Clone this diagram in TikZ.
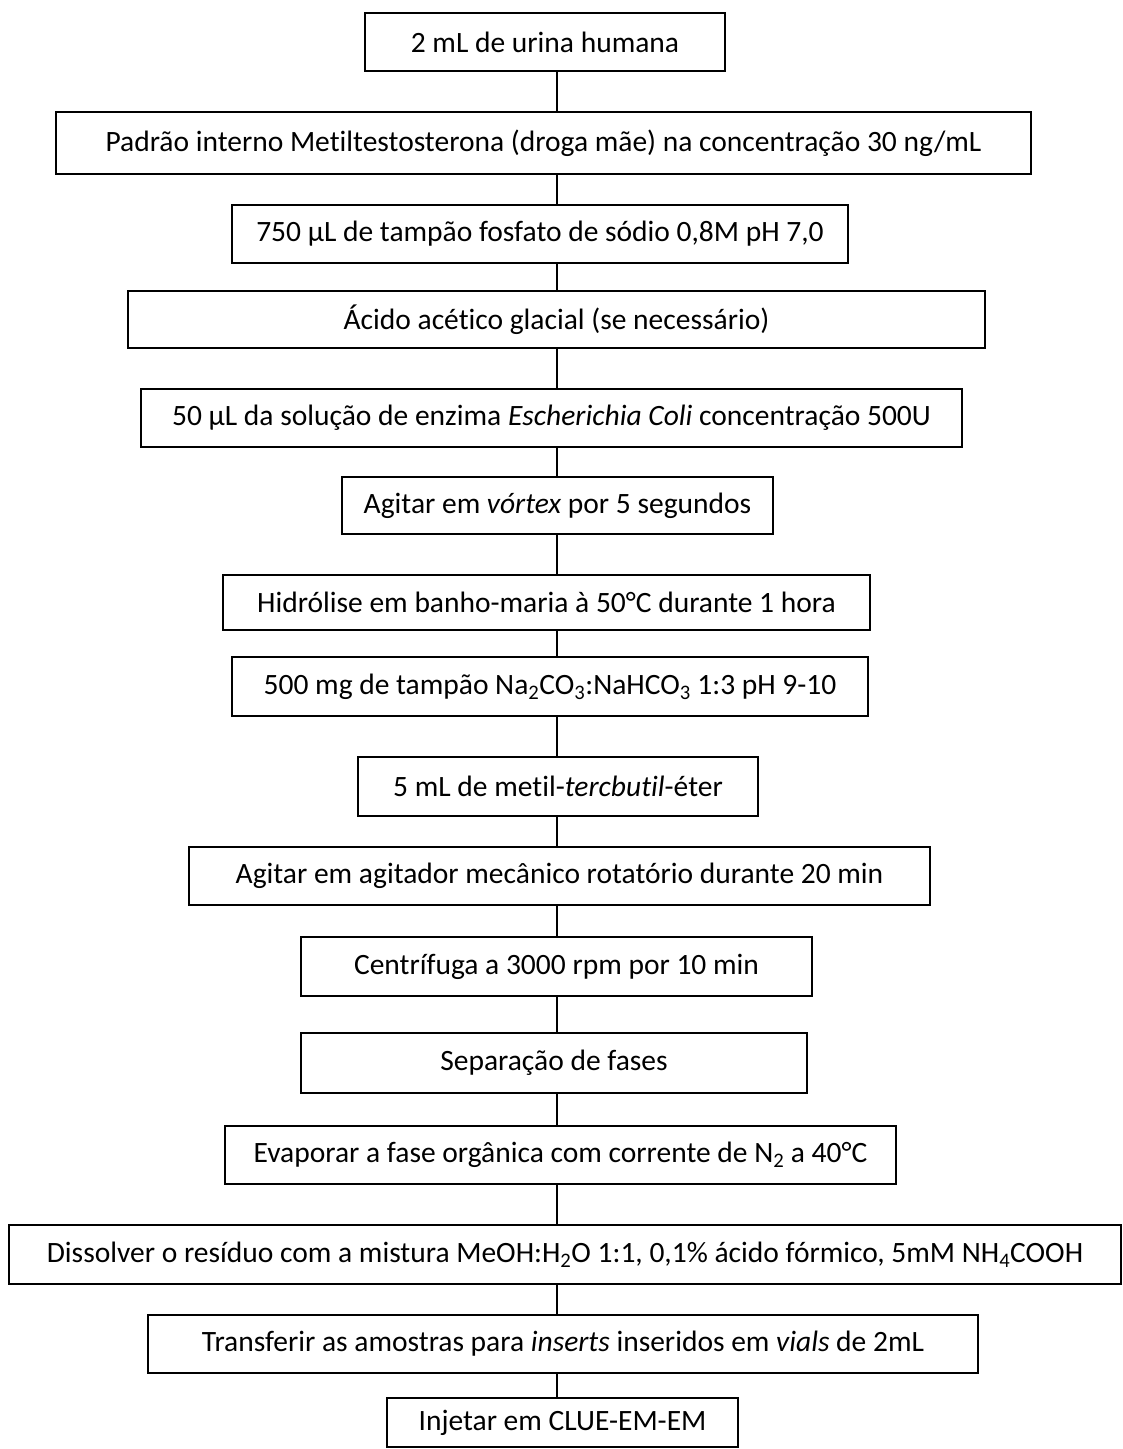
\documentclass[tikz,border=0pt]{standalone}
\usepackage{fontspec}
\setmainfont{Carlito}[Ligatures={NoCommon}]

\begin{document}
\begin{tikzpicture}[
    x=1pt, y=-1pt,
    line width=1.8pt,
    stepbox/.style={draw=black, rectangle, inner sep=0pt, text=black,
                    font=\fontsize{29.5}{34}\selectfont},
    link/.style={draw=black, line width=1.5pt},
  ]
  \useasboundingbox (0,0) rectangle (1123,1449);

  % ---- etapas do preparo ----
  \node[stepbox, minimum width=360, minimum height=58] (urina) at (545,42) {2 mL de urina humana};
  \node[stepbox, minimum width=975, minimum height=62] (padrao) at (543.5,143) {Padrão interno Metiltestosterona (droga mãe) na concentração 30 ng/mL};
  \node[stepbox, minimum width=616, minimum height=58] (tampao) at (540,234) {750 µL de tampão fosfato de sódio 0,8M pH 7,0};
  \node[stepbox, minimum width=857, minimum height=57] (acido) at (556.5,319.5) {Ácido acético glacial (se necessário)};
  \node[stepbox, minimum width=821, minimum height=58] (enzima) at (551.5,418) {50 µL da solução de enzima \textit{Escherichia Coli} concentração 500U};
  \node[stepbox, minimum width=431, minimum height=57] (vortex) at (557.5,505.5) {Agitar em \textit{vórtex} por 5 segundos};
  \node[stepbox, minimum width=647, minimum height=55] (hidrolise) at (546.5,602.5) {Hidrólise em banho-maria à 50°C durante 1 hora};
  \node[stepbox, minimum width=636, minimum height=59] (carbonato) at (550,686.5) {500 mg de tampão Na\textsubscript{2}CO\textsubscript{3}:NaHCO\textsubscript{3} 1:3 pH 9-10};
  \node[stepbox, minimum width=400, minimum height=59] (eter) at (558,786.5) {5 mL de metil-\textit{tercbutil}-éter};
  \node[stepbox, minimum width=741, minimum height=58] (agitador) at (559.5,876) {Agitar em agitador mecânico rotatório durante 20 min};
  \node[stepbox, minimum width=511, minimum height=59] (centrifuga) at (556.5,966.5) {Centrífuga a 3000 rpm por 10 min};
  \node[stepbox, minimum width=506, minimum height=60] (fases) at (554,1063) {Separação de fases};
  \node[stepbox, minimum width=671, minimum height=58] (evaporar) at (560.5,1155) {Evaporar a fase orgânica com corrente de N\textsubscript{2} a 40°C};
  \node[stepbox, minimum width=1112, minimum height=59] (dissolver) at (565,1254.5) {Dissolver o resíduo com a mistura MeOH:H\textsubscript{2}O 1:1, 0,1\% ácido fórmico, 5mM NH\textsubscript{4}COOH};
  \node[stepbox, minimum width=830, minimum height=58] (transferir) at (563,1344) {Transferir as amostras para \textit{inserts} inseridos em \textit{vials} de 2mL};
  \node[stepbox, minimum width=351, minimum height=49] (injetar) at (562.5,1422.5) {Injetar em CLUE-EM-EM};

  % ---- ligacoes ----
  \coordinate (eixo) at (557,0);
  \foreach \a/\b in {urina/padrao, padrao/tampao, tampao/acido, acido/enzima,
                     enzima/vortex, vortex/hidrolise, hidrolise/carbonato,
                     carbonato/eter, eter/agitador, agitador/centrifuga,
                     centrifuga/fases, fases/evaporar, evaporar/dissolver,
                     dissolver/transferir, transferir/injetar}
    \draw[link] (\a.south -| eixo) -- (\b.north -| eixo);
\end{tikzpicture}
\end{document}
